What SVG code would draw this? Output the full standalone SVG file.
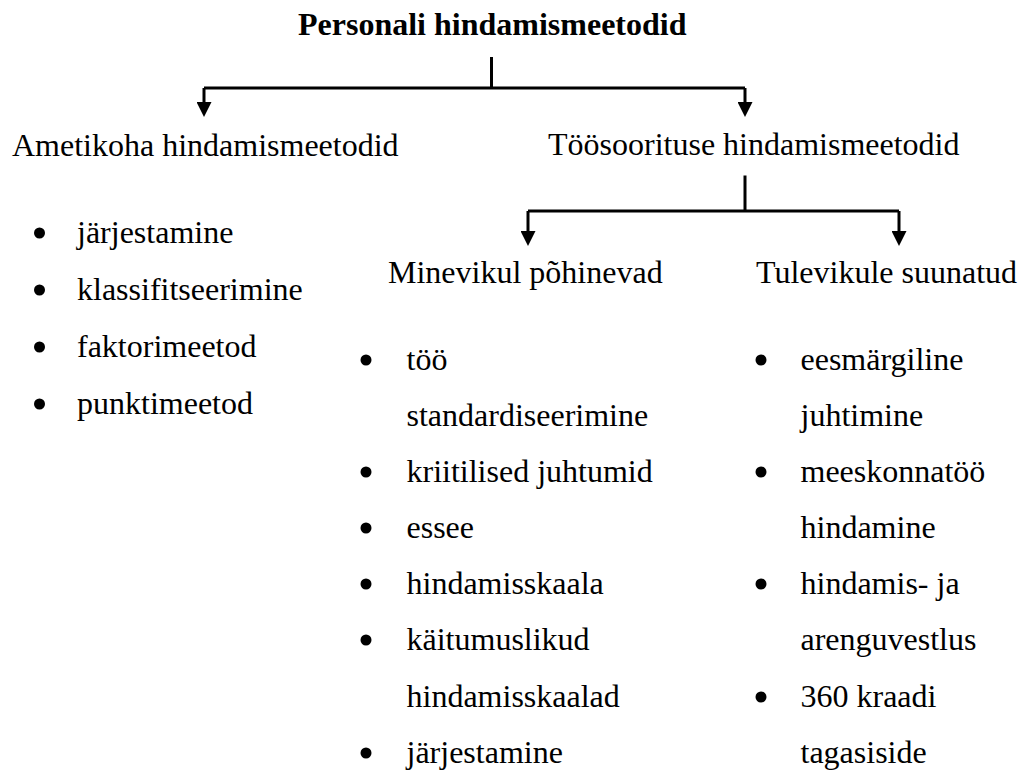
<svg xmlns="http://www.w3.org/2000/svg" width="1032" height="774" viewBox="0 0 1032 774">
  <style>
    text { font-family: "Liberation Serif", "Times New Roman", serif; font-size: 32px; fill: #000; }
    .title { font-weight: bold; }
    .wire { fill: none; stroke: #000; stroke-width: 3; }
    .arrow { fill: none; stroke: #000; stroke-width: 3; marker-end: url(#head); }
    .dot { fill: #000; }
  </style>
  <defs>
    <marker id="head" viewBox="0 0 15 15" refX="3" refY="7.5" markerWidth="15" markerHeight="15" markerUnits="userSpaceOnUse" orient="auto">
      <path d="M0,0 L15,7.5 L0,15 z" fill="#000"/>
    </marker>
  </defs>
  <rect width="1032" height="774" fill="#fff"/>

  <!-- connectors -->
  <g id="connectors">
    <path class="wire" d="M491.5,57 V88 M204,88 H745 M745,175.5 V211 M528,211 H899"/>
    <path class="arrow" d="M204,88 V105"/>
    <path class="arrow" d="M745,88 V105"/>
    <path class="arrow" d="M528,211 V234"/>
    <path class="arrow" d="M899,211 V234"/>
  </g>

  <g id="root">
    <text class="title" x="298" y="35">Personali hindamismeetodid</text>
  </g>

  <g id="ametikoha">
    <text x="12" y="156">Ametikoha hindamismeetodid</text>
    <circle class="dot" cx="39.5" cy="233" r="5.5"/>
    <text x="77" y="243">järjestamine</text>
    <circle class="dot" cx="39.5" cy="290" r="5.5"/>
    <text x="77" y="300">klassifitseerimine</text>
    <circle class="dot" cx="39.5" cy="347" r="5.5"/>
    <text x="77" y="357">faktorimeetod</text>
    <circle class="dot" cx="39.5" cy="404" r="5.5"/>
    <text x="77" y="414">punktimeetod</text>
  </g>

  <g id="toosoorituse">
    <text x="548" y="155">Töösoorituse hindamismeetodid</text>
  </g>

  <g id="minevikul">
    <text x="388" y="283">Minevikul põhinevad</text>
    <circle class="dot" cx="366" cy="360" r="5.5"/>
    <text x="406.5" y="370">töö</text>
    <text x="406.5" y="426">standardiseerimine</text>
    <circle class="dot" cx="366" cy="472" r="5.5"/>
    <text x="406.5" y="482">kriitilised juhtumid</text>
    <circle class="dot" cx="366" cy="528" r="5.5"/>
    <text x="406.5" y="538">essee</text>
    <circle class="dot" cx="366" cy="584" r="5.5"/>
    <text x="406.5" y="594">hindamisskaala</text>
    <circle class="dot" cx="366" cy="640" r="5.5"/>
    <text x="406.5" y="650">käitumuslikud</text>
    <text x="406.5" y="707">hindamisskaalad</text>
    <circle class="dot" cx="366" cy="753" r="5.5"/>
    <text x="406.5" y="763">järjestamine</text>
  </g>

  <g id="tulevikule">
    <text x="756" y="283">Tulevikule suunatud</text>
    <circle class="dot" cx="761" cy="360" r="5.5"/>
    <text x="800.5" y="370">eesmärgiline</text>
    <text x="800.5" y="426">juhtimine</text>
    <circle class="dot" cx="761" cy="472" r="5.5"/>
    <text x="800.5" y="482">meeskonnatöö</text>
    <text x="800.5" y="538">hindamine</text>
    <circle class="dot" cx="761" cy="584" r="5.5"/>
    <text x="800.5" y="594">hindamis- ja</text>
    <text x="800.5" y="650">arenguvestlus</text>
    <circle class="dot" cx="761" cy="697" r="5.5"/>
    <text x="800.5" y="707">360 kraadi</text>
    <text x="800.5" y="763">tagasiside</text>
  </g>
</svg>
